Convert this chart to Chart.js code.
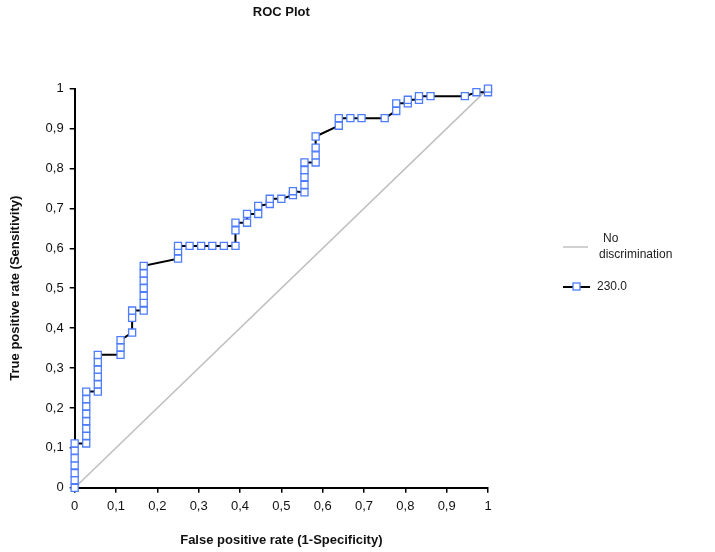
<!DOCTYPE html>
<html>
<head>
<meta charset="utf-8">
<title>ROC Plot</title>
<script src="https://cdn.jsdelivr.net/npm/chart.js@4.4.1/dist/chart.umd.min.js"></script>
<style>
  html, body { margin: 0; padding: 0; background: #fff; }
  #wrap { position: relative; width: 715px; height: 552px; }
</style>
</head>
<body>
<div id="wrap"><canvas id="roc"></canvas></div>
<script>
/* ROC plot: one test (230.0) against the no-discrimination diagonal */

// False positive rate (1-Specificity) of each point
const fpr = [
  0, 0, 0, 0, 0, 0, 0,
  0.028, 0.028, 0.028, 0.028, 0.028, 0.028, 0.028, 0.028,
  0.056, 0.056, 0.056, 0.056, 0.056, 0.056,
  0.111, 0.111, 0.111,
  0.139, 0.139, 0.139,
  0.167, 0.167, 0.167, 0.167, 0.167, 0.167, 0.167,
  0.25, 0.25, 0.25,
  0.278, 0.306, 0.333, 0.361,
  0.389, 0.389, 0.389,
  0.417, 0.417,
  0.444, 0.444,
  0.472, 0.472,
  0.5,
  0.528, 0.528,
  0.556, 0.556, 0.556, 0.556, 0.556,
  0.583, 0.583, 0.583, 0.583,
  0.639, 0.639,
  0.667, 0.694, 0.75,
  0.778, 0.778,
  0.806, 0.806,
  0.833, 0.833,
  0.861, 0.944,
  0.972, 1, 1
];

// True positive rate (Sensitivity) of each point
const tpr = [
  0, 0.019, 0.037, 0.056, 0.074, 0.093, 0.111,
  0.111, 0.13, 0.148, 0.167, 0.185, 0.204, 0.222, 0.241,
  0.241, 0.259, 0.278, 0.296, 0.315, 0.333,
  0.333, 0.352, 0.37,
  0.389, 0.426, 0.444,
  0.444, 0.463, 0.481, 0.5, 0.519, 0.537, 0.556,
  0.574, 0.593, 0.606,
  0.606, 0.606, 0.606, 0.606,
  0.606, 0.645, 0.664,
  0.664, 0.686,
  0.686, 0.706,
  0.711, 0.724,
  0.724,
  0.733, 0.743,
  0.74, 0.759, 0.778, 0.796, 0.815,
  0.815, 0.833, 0.852, 0.88,
  0.907, 0.926,
  0.926, 0.926, 0.926,
  0.944, 0.963,
  0.963, 0.972,
  0.972, 0.981,
  0.981, 0.981,
  0.991, 0.991, 1
];

// Reference diagonal
const diagX = [0, 1];
const diagY = [0, 1];

const seriesLabel = '230.0';
const diagLabel = ['No', 'discrimination'];
const axisTicks = [0, 0.1, 0.2, 0.3, 0.4, 0.5, 0.6, 0.7, 0.8, 0.9, 1];

const FONT = "'Liberation Sans', Arial, sans-serif";
const MARKER_BLUE = '#4d7cff';
const DIAG_GREY = '#c0c0c0';

function tickText(v) {
  const r = Math.round(v * 10) / 10;
  if (r === 0 || r === 1) return String(r);
  return r.toFixed(1).replace('.', ',');
}

// Legend drawn by hand so the diagonal label can wrap over two lines
const sideLegend = {
  id: 'sideLegend',
  afterDraw(chart) {
    const ctx = chart.ctx;
    ctx.save();
    ctx.font = '12px ' + FONT;
    ctx.fillStyle = '#222';
    ctx.textBaseline = 'middle';
    ctx.textAlign = 'left';

    // No discrimination
    ctx.strokeStyle = DIAG_GREY;
    ctx.lineWidth = 1.5;
    ctx.beginPath();
    ctx.moveTo(563, 247);
    ctx.lineTo(588, 247);
    ctx.stroke();
    ctx.fillText(diagLabel[0], 603, 239);
    ctx.fillText(diagLabel[1], 599, 255);

    // Test series
    ctx.strokeStyle = '#000';
    ctx.lineWidth = 2;
    ctx.beginPath();
    ctx.moveTo(563, 287);
    ctx.lineTo(590, 287);
    ctx.stroke();
    ctx.fillStyle = '#fff';
    ctx.strokeStyle = MARKER_BLUE;
    ctx.lineWidth = 1.3;
    ctx.fillRect(573, 283, 7, 7);
    ctx.strokeRect(573, 283, 7, 7);
    ctx.fillStyle = '#222';
    ctx.fillText(seriesLabel, 597, 287);
    ctx.restore();
  }
};

const rocPoints = fpr.map((x, i) => ({ x: x, y: tpr[i] }));
const diagPoints = diagX.map((x, i) => ({ x: x, y: diagY[i] }));

function makeAxis(titleText, tickPad, titlePad) {
  return {
    type: 'linear',
    min: 0,
    max: 1,
    afterBuildTicks: axis => { axis.ticks = axisTicks.map(v => ({ value: v })); },
    grid: {
      drawOnChartArea: false,
      drawTicks: true,
      tickLength: 5,
      color: '#000',
      lineWidth: 1.5
    },
    border: { color: '#000', width: 2 },
    ticks: {
      color: '#111',
      padding: tickPad,
      font: { family: FONT, size: 13 },
      callback: v => tickText(v)
    },
    title: {
      display: true,
      text: titleText,
      color: '#111',
      font: { family: FONT, size: 13, weight: 'bold' },
      padding: titlePad
    }
  };
}

new Chart(document.getElementById('roc').getContext('2d'), {
  type: 'scatter',
  data: {
    datasets: [
      {
        label: 'No discrimination',
        data: diagPoints,
        showLine: true,
        borderColor: DIAG_GREY,
        borderWidth: 1.5,
        pointRadius: 0,
        order: 2
      },
      {
        label: seriesLabel,
        data: rocPoints,
        showLine: true,
        clip: false,
        borderColor: '#000',
        borderWidth: 2,
        pointStyle: 'rect',
        pointRadius: 5,
        pointBackgroundColor: '#fff',
        pointBorderColor: MARKER_BLUE,
        pointBorderWidth: 1.3,
        order: 1
      }
    ]
  },
  options: {
    responsive: true,
    maintainAspectRatio: false,
    animation: false,
    layout: { padding: { top: 0, right: 227, bottom: 4, left: 8 } },
    plugins: {
      legend: { display: false },
      tooltip: { enabled: false },
      title: {
        display: true,
        text: 'ROC Plot',
        fullSize: false,
        color: '#111',
        font: { family: FONT, size: 13, weight: 'bold' },
        padding: { top: 5, bottom: 68 }
      }
    },
    scales: {
      x: makeAxis('False positive rate (1-Specificity)', 6, { top: 12, bottom: 0 }),
      y: makeAxis('True positive rate (Sensitivity)', 6, { top: 0, bottom: 16 })
    }
  },
  plugins: [sideLegend]
});
</script>
</body>
</html>
